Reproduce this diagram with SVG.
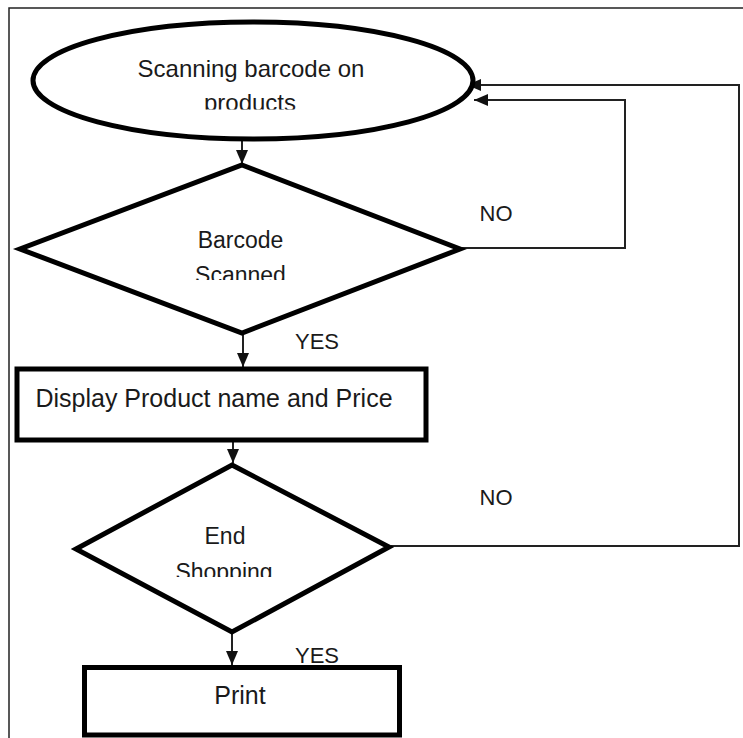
<svg xmlns="http://www.w3.org/2000/svg" width="743" height="738" viewBox="0 0 743 738">
  <style>
    .shape { fill: #ffffff; stroke: #000000; stroke-width: 5; stroke-linejoin: miter; }
    .conn { fill: none; stroke: #222222; stroke-width: 2; }
    .txt { font-family: "Liberation Sans", Arial, sans-serif; fill: #1a1a1a; text-anchor: middle; }
    .lbl { font-family: "Liberation Sans", Arial, sans-serif; fill: #1a1a1a; font-size: 22px; text-anchor: middle; }
  </style>
  <defs>
    <marker id="arrow" viewBox="0 0 14 12" refX="14" refY="6" markerWidth="14" markerHeight="12" markerUnits="userSpaceOnUse" orient="auto">
      <path d="M0,0 L14,6 L0,12 Z" fill="#111111"/>
    </marker>
    <clipPath id="clipEllipse"><rect x="0" y="0" width="743" height="109.5"/></clipPath>
    <clipPath id="clipD1"><rect x="0" y="0" width="743" height="280"/></clipPath>
    <clipPath id="clipD2"><rect x="0" y="0" width="743" height="577"/></clipPath>
  </defs>

  <rect id="frame" x="9" y="8" width="800" height="800" fill="#ffffff" stroke="#222222" stroke-width="1.5"/>

  <g id="connectors">
    <line class="conn" x1="242" y1="141" x2="242" y2="164" marker-end="url(#arrow)"/>
    <line class="conn" x1="243" y1="335" x2="243" y2="367" marker-end="url(#arrow)"/>
    <line class="conn" x1="233" y1="441" x2="233" y2="463" marker-end="url(#arrow)"/>
    <line class="conn" x1="232" y1="634" x2="232" y2="665" marker-end="url(#arrow)"/>
    <polyline class="conn" points="462,248 625,248 625,100 474,100" marker-end="url(#arrow)"/>
    <polyline class="conn" points="391,546 739,546 739,85 467,85" marker-end="url(#arrow)"/>
    <text class="lbl" x="496" y="221">NO</text>
    <text class="lbl" x="317" y="349">YES</text>
    <text class="lbl" x="496" y="505">NO</text>
    <text class="lbl" x="317" y="663">YES</text>
  </g>

  <g id="start">
    <ellipse class="shape" cx="253" cy="80.5" rx="220" ry="58.5"/>
    <g clip-path="url(#clipEllipse)">
      <text class="txt" font-size="24" x="251" y="77">Scanning barcode on</text>
      <text class="txt" font-size="24" x="250" y="111">products</text>
    </g>
  </g>

  <g id="barcode-scanned">
    <polygon class="shape" points="242,165 460,249 242,333 20,249"/>
    <text class="txt" font-size="23" x="240.5" y="248">Barcode</text>
    <g clip-path="url(#clipD1)">
      <text class="txt" font-size="23" x="240.5" y="283">Scanned</text>
    </g>
  </g>

  <g id="display">
    <rect class="shape" x="17" y="369" width="409" height="71" stroke-width="4.5"/>
    <text class="txt" font-size="25" x="214" y="407">Display Product name and Price</text>
  </g>

  <g id="end-shopping">
    <polygon class="shape" points="232,465 389,547 232,632 76,549"/>
    <text class="txt" font-size="23" x="225" y="544">End</text>
    <g clip-path="url(#clipD2)">
      <text class="txt" font-size="23" x="224" y="580">Shopping</text>
    </g>
  </g>

  <g id="print">
    <rect class="shape" x="84.5" y="667.5" width="315" height="67.5"/>
    <text class="txt" font-size="25" x="240" y="704">Print</text>
  </g>
</svg>
